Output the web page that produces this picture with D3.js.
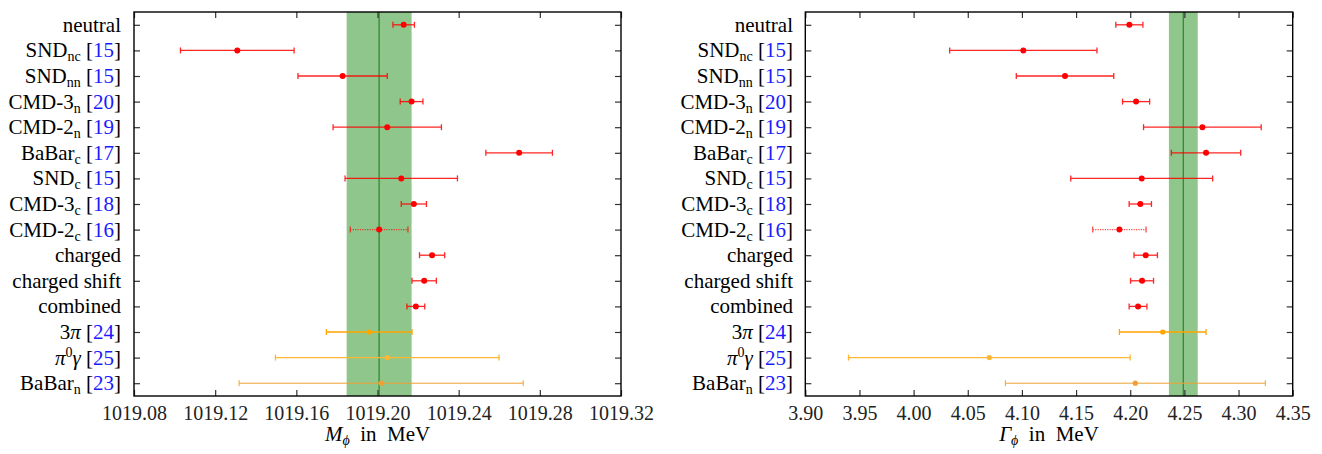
<!DOCTYPE html>
<html><head><meta charset="utf-8">
<script src="https://cdn.jsdelivr.net/npm/d3@7"></script>
<style>body{margin:0;background:#fff}svg{display:block}</style>
</head><body><svg id="c" width="1322" height="454" font-family="'Liberation Serif', 'DejaVu Serif', serif"></svg>
<script>
// categories (name, subscript, reference)
const names = ["neutral","SND","SND","CMD-3","CMD-2","BaBar","SND","CMD-3","CMD-2","charged","charged shift","combined","3π","π0γ","BaBar"];
const subs  = ["","nc","nn","n","n","c","c","c","c","","","","","","n"];
const refs  = ["","15","15","20","19","17","15","18","16","","","","24","25","23"];
const kinds = ["r","r","r","r","r","r","r","r","rd","r","r","r","o","o2","o3"];
// Mass values and errors (MeV)
const massVal = [1019.2129,1019.1309,1019.1828,1019.2168,1019.2048,1019.2698,1019.2117,1019.2179,1019.2008,1019.2269,1019.2230,1019.2189,1019.1959,1019.2048,1019.2018];
const massErr = [0.0053,0.0280,0.0220,0.0056,0.0267,0.0164,0.0277,0.0062,0.0142,0.0062,0.0060,0.0044,0.0211,0.0551,0.0700];
// Width values and errors (MeV)
const widthVal = [4.1992,4.1013,4.1398,4.2054,4.2666,4.2700,4.2106,4.2093,4.1900,4.2143,4.2109,4.2072,4.2300,4.0699,4.2047];
const widthErr = [0.0125,0.0680,0.0450,0.0125,0.0543,0.0320,0.0655,0.0103,0.0246,0.0108,0.0106,0.0082,0.0400,0.1300,0.1200];
// bands
const massBand = [1019.2008, 0.0160];
const widthBand = [4.2490, 0.0133];
const massTicks = [1019.08,1019.12,1019.16,1019.20,1019.24,1019.28,1019.32];
const widthTicks = [3.90,3.95,4.00,4.05,4.10,4.15,4.20,4.25,4.30,4.35];

const FONT = "Liberation Serif, DejaVu Serif, serif";
const svg = d3.select("#c");
const ids = d3.range(names.length);
const y = d3.scalePoint().domain(ids).range([12,396]).padding(0.5);

function label(g, i, xr) {
  const t = g.append("text").attr("x", xr).attr("y", y(i)+7).attr("text-anchor","end")
    .attr("font-family", FONT).attr("font-size", 21).attr("fill","#000");
  const n = names[i];
  if (n === "3π") {
    t.append("tspan").text("3");
    t.append("tspan").attr("font-style","italic").text("π");
  } else if (n === "π0γ") {
    t.append("tspan").attr("font-style","italic").text("π");
    t.append("tspan").attr("font-size",14).attr("dy",-8).text("0");
    t.append("tspan").attr("font-style","italic").attr("dy",8).text("γ");
  } else {
    t.append("tspan").text(n);
  }
  if (subs[i]) t.append("tspan").attr("font-size",14).attr("dy",4).text(subs[i]);
  if (refs[i]) {
    t.append("tspan").attr("dy", subs[i] ? -4 : 0).text("\u00a0[");
    t.append("tspan").attr("fill","#1a1aff").text(refs[i]);
    t.append("tspan").text("]");
  }
}

function panel(x0, x1, domain, ticks, vals, errs, band, fmt, title, labelX) {
  const g = svg.append("g");
  const x = d3.scaleLinear().domain(domain).range([x0, x1]);
  // band
  g.append("rect").attr("x", x(band[0]-band[1])).attr("y",12)
    .attr("width", x(band[0]+band[1]) - x(band[0]-band[1])).attr("height",384)
    .attr("fill","#8fc68c");
  g.append("line").attr("x1",x(band[0])).attr("x2",x(band[0])).attr("y1",12).attr("y2",396)
    .attr("stroke","#2f8a2f").attr("stroke-width",1.3);
  // axes
  const ab = d3.axisBottom(x).tickValues(ticks).tickFormat(fmt).tickSizeInner(-6).tickSizeOuter(0).tickPadding(10);
  const gb = g.append("g").attr("transform","translate(0,396)").call(ab);
  const at = d3.axisTop(x).tickValues(ticks).tickFormat("").tickSizeInner(-6).tickSizeOuter(0);
  const gt = g.append("g").attr("transform","translate(0,12)").call(at);
  const al = d3.axisLeft(y).tickFormat("").tickSizeInner(-6).tickSizeOuter(0);
  const gl = g.append("g").attr("transform",`translate(${x0},0)`).call(al);
  const ar = d3.axisRight(y).tickFormat("").tickSizeInner(-6).tickSizeOuter(0);
  const gr = g.append("g").attr("transform",`translate(${x1},0)`).call(ar);
  [gb,gt,gl,gr].forEach(a => { a.attr("font-family", FONT); a.select(".domain").remove(); a.selectAll("line").attr("stroke","#333").attr("stroke-width",1.2); });
  gb.attr("font-size",20);
  gb.selectAll("text").attr("font-size",20).attr("font-family",FONT).attr("fill","#222");
  g.append("rect").attr("x",x0).attr("y",12).attr("width",x1-x0).attr("height",384)
    .attr("fill","none").attr("stroke","#000").attr("stroke-width",1.4);
  // data
  ids.forEach(i => {
    const k = kinds[i];
    const col = k === "o" ? "#ffa500" : k === "o2" ? "#ffb733" : k === "o3" ? "#f0a030" : "#ff0000";
    const lo = x(vals[i]-errs[i]), hi = x(vals[i]+errs[i]), yy = y(i);
    const eb = g.append("g").attr("stroke", col).attr("stroke-width", k==="o3" ? 1 : 1.3)
      .attr("opacity", k==="rd" ? 0.7 : (k==="r" ? 0.85 : 1));
    eb.append("line").attr("x1",lo).attr("x2",hi).attr("y1",yy).attr("y2",yy)
      .attr("stroke-dasharray", k==="rd" ? "1.2,1.2" : null);
    eb.append("line").attr("x1",lo).attr("x2",lo).attr("y1",yy-3).attr("y2",yy+3);
    eb.append("line").attr("x1",hi).attr("x2",hi).attr("y1",yy-3).attr("y2",yy+3);
    g.append("circle").attr("cx",x(vals[i])).attr("cy",yy).attr("r", k[0]==="o" ? 2.6 : 3).attr("fill", col);
    label(g, i, labelX);
  });
  // title
  const t = g.append("text").attr("x",(x0+x1)/2).attr("y",441).attr("text-anchor","middle")
    .attr("font-family", FONT).attr("font-size",21).attr("fill","#000");
  t.append("tspan").attr("font-style","italic").text(title);
  t.append("tspan").attr("font-style","italic").attr("font-size",14).attr("dy",4).text("ϕ");
  t.append("tspan").attr("dy",-4).text("\u00a0\u00a0in\u00a0\u00a0MeV");
}

panel(134, 621, [1019.08, 1019.32], massTicks, massVal, massErr, massBand, d3.format(".2f"), "M", 121);
panel(805.3, 1292.7, [3.90, 4.35], widthTicks, widthVal, widthErr, widthBand, d3.format(".2f"), "Γ", 793);
</script></body></html>
